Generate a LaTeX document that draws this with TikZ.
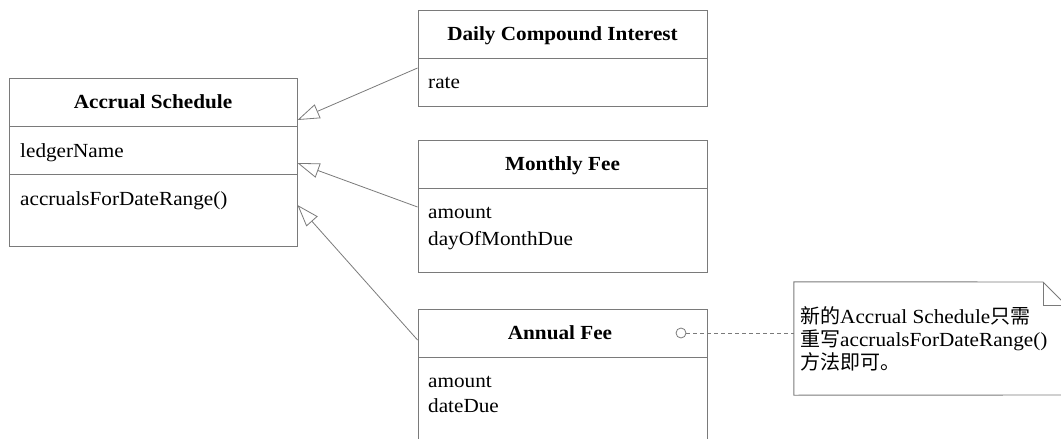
\documentclass[tikz,border=0pt]{standalone}
\usepackage{fontspec}
\setmainfont{Liberation Serif}[FakeStretch=1.06]
\newfontfamily\cjk{Noto Sans CJK SC}[FakeStretch=1.0]
\usetikzlibrary{arrows.meta}
\definecolor{lc}{HTML}{7A7A7A}
\tikzset{
  x=1pt, y=-1pt,
  cls/.style={draw=lc, line width=0.9pt, rectangle, inner sep=0pt},
  txt/.style={anchor=base west, inner sep=0pt, font=\fontsize{20}{23}\selectfont},
  ttl/.style={anchor=base, inner sep=0pt, font=\fontsize{20}{23}\selectfont\bfseries},
  inh/.style={draw=lc, line width=0.8pt, -{Triangle[open, length=22pt, width=15pt, fill=white]}},
  divl/.style={draw=lc, line width=0.9pt},
}
\begin{document}
\begin{tikzpicture}
\useasboundingbox (0,0) rectangle (1061,439);
\clip (0,0) rectangle (1061,439);
% Accrual Schedule
\node[cls, minimum width=288pt, minimum height=168pt] (acc) at (153,162) {};
\draw[divl] (9,126) -- (297,126);
\draw[divl] (9,174) -- (297,174);
\node[ttl] (accT) at (153,108) {Accrual Schedule};
\node[txt] (accA) at (20,157) {ledgerName};
\node[txt] (accM) at (20,205) {accrualsForDateRange()};
% Daily Compound Interest
\node[cls, minimum width=289pt, minimum height=96pt] (daily) at (562.5,58) {};
\draw[divl] (418,58) -- (707,58);
\node[ttl] (dailyT) at (562.5,40) {Daily Compound Interest};
\node[txt] (dailyA) at (428,88) {rate};
% Monthly Fee
\node[cls, minimum width=289pt, minimum height=132pt] (monthly) at (562.5,206) {};
\draw[divl] (418,188) -- (707,188);
\node[ttl] (monthlyT) at (562.5,170) {Monthly Fee};
\node[txt] (monthlyA) at (428,218) {amount};
\node[txt] (monthlyB) at (428,245) {dayOfMonthDue};
% Annual Fee
\node[cls, minimum width=289pt, minimum height=151pt] (annual) at (562.5,384.5) {};
\draw[divl] (418,357) -- (707,357);
\node[ttl] (annualT) at (560,339) {Annual Fee};
\node[txt] (annualA) at (428,387) {amount};
\node[txt] (annualB) at (428,412) {dateDue};
% inheritance arrows
\coordinate (d0) at ([yshift=-10pt]daily.west);
\coordinate (a0) at ([yshift=42pt]acc.east);
\draw[inh] (d0) -- (a0);
\coordinate (m0) at ([yshift=-1pt]monthly.west);
\coordinate (a1) at ([yshift=-1pt]acc.east);
\draw[inh] (m0) -- (a1);
\coordinate (n0) at ([yshift=44.5pt]annual.west);
\coordinate (a2) at ([yshift=-43pt]acc.east);
\draw[inh] (n0) -- (a2);
% note
\node[inner sep=0pt, minimum width=272pt, minimum height=113pt] (note) at (930,338.5) {};
\draw[draw=lc, line width=0.9pt] (note.north west) -- (1043,282) -- (1066,305) -- (1066,395) -- (note.south west) -- cycle;
\draw[draw=lc, line width=0.9pt] (1043,282) -- (1043,305) -- (1066,305);
\node[txt] (noteL1) at (800,323) {{\cjk 新的}Accrual Schedule{\cjk 只需}};
\node[txt] (noteL2) at (800,346) {{\cjk 重写}accrualsForDateRange()};
\node[txt] (noteL3) at (800,369) {{\cjk 方法即可。}};
% anchor circle and dashed link
\node[circle, draw=lc, line width=0.8pt, fill=white, minimum size=10pt, inner sep=0pt] (circ) at (681,333) {};
\draw[draw=lc, line width=0.8pt, dash pattern=on 4pt off 3pt] (circ.east) -- (note.west |- circ);
\end{tikzpicture}
\end{document}
